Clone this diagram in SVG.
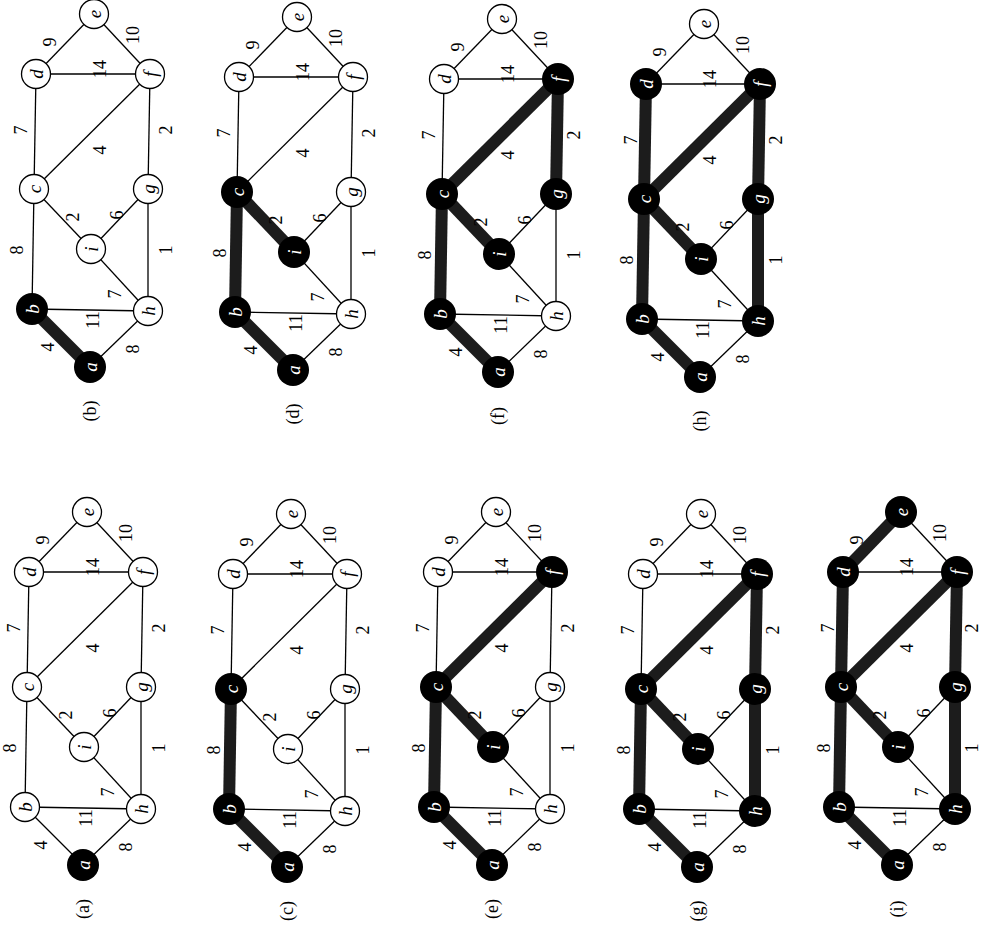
<svg xmlns="http://www.w3.org/2000/svg" width="983" height="937" viewBox="0 0 983 937">
<style>
.e{stroke:#000;stroke-width:1.3}
.t{stroke:#1c1c1c;stroke-width:12}
.w circle{fill:#fff;stroke:#000;stroke-width:1.3}
.k circle{fill:#000}
.n text{font-family:"Liberation Serif",serif;font-style:italic;font-size:19px;text-anchor:middle;dominant-baseline:central}
.w text{fill:#000}
.k text{fill:#fff}
.l{font-family:"Liberation Serif",serif;font-size:18px;text-anchor:middle;dominant-baseline:central;fill:#000}
</style>
<rect width="983" height="937" fill="#fff"/>
<defs>
<g id="thin">
<line class="e" x1="0" y1="0" x2="-58" y2="-58"/>
<line class="e" x1="0" y1="0" x2="58" y2="-56"/>
<line class="e" x1="-58" y1="-58" x2="58" y2="-56"/>
<line class="e" x1="-58" y1="-58" x2="-56" y2="-178"/>
<line class="e" x1="58" y1="-56" x2="1" y2="-118"/>
<line class="e" x1="58" y1="-56" x2="58" y2="-178"/>
<line class="e" x1="-56" y1="-178" x2="1" y2="-118"/>
<line class="e" x1="1" y1="-118" x2="58" y2="-178"/>
<line class="e" x1="-56" y1="-178" x2="-54" y2="-293"/>
<line class="e" x1="-56" y1="-178" x2="60" y2="-293"/>
<line class="e" x1="58" y1="-178" x2="60" y2="-293"/>
<line class="e" x1="-54" y1="-293" x2="60" y2="-293"/>
<line class="e" x1="-54" y1="-293" x2="4" y2="-353"/>
<line class="e" x1="4" y1="-353" x2="60" y2="-293"/>
</g>
<line id="t-ab" class="t" x1="0" y1="0" x2="-58" y2="-58"/>
<line id="t-bc" class="t" x1="-58" y1="-58" x2="-56" y2="-178"/>
<line id="t-ci" class="t" x1="-56" y1="-178" x2="1" y2="-118"/>
<line id="t-cf" class="t" x1="-56" y1="-178" x2="60" y2="-293"/>
<line id="t-gf" class="t" x1="58" y1="-178" x2="60" y2="-293"/>
<line id="t-hg" class="t" x1="58" y1="-56" x2="58" y2="-178"/>
<line id="t-cd" class="t" x1="-56" y1="-178" x2="-54" y2="-293"/>
<line id="t-de" class="t" x1="-54" y1="-293" x2="4" y2="-353"/>
</defs>

<!-- Panel (a) -->
<g id="panel-a" transform="translate(83,865)">
<g id="pa-connectors"><use href="#thin"/></g>
<g id="pa-labels">
<text class="l" transform="translate(-42,-20) rotate(-90)">4</text>
<text class="l" transform="translate(43,-18) rotate(-90)">8</text>
<text class="l" transform="translate(3,-47) rotate(-90)">11</text>
<text class="l" transform="translate(25,-73) rotate(-90)">7</text>
<text class="l" transform="translate(-73,-117) rotate(-90)">8</text>
<text class="l" transform="translate(76,-117) rotate(-90)">1</text>
<text class="l" transform="translate(-17,-150) rotate(-90)">2</text>
<text class="l" transform="translate(27,-152) rotate(-90)">6</text>
<text class="l" transform="translate(10,-217) rotate(-90)">4</text>
<text class="l" transform="translate(-69,-237) rotate(-90)">7</text>
<text class="l" transform="translate(76,-237) rotate(-90)">2</text>
<text class="l" transform="translate(10,-298) rotate(-90)">14</text>
<text class="l" transform="translate(-40,-325) rotate(-90)">9</text>
<text class="l" transform="translate(43,-332) rotate(-90)">10</text>
<text class="l" transform="translate(0,44) rotate(-90)">(a)</text>
</g>
<g id="pa-a" class="n k"><circle cx="0" cy="0" r="16"/><text transform="translate(0,0) rotate(-90)">a</text></g>
<g id="pa-b" class="n w"><circle cx="-58" cy="-58" r="14.5"/><text transform="translate(-58,-58) rotate(-90)">b</text></g>
<g id="pa-h" class="n w"><circle cx="58" cy="-56" r="14.5"/><text transform="translate(58,-56) rotate(-90)">h</text></g>
<g id="pa-i" class="n w"><circle cx="1" cy="-118" r="14.5"/><text transform="translate(1,-118) rotate(-90)">i</text></g>
<g id="pa-c" class="n w"><circle cx="-56" cy="-178" r="14.5"/><text transform="translate(-56,-178) rotate(-90)">c</text></g>
<g id="pa-g" class="n w"><circle cx="58" cy="-178" r="14.5"/><text transform="translate(58,-178) rotate(-90)">g</text></g>
<g id="pa-d" class="n w"><circle cx="-54" cy="-293" r="14.5"/><text transform="translate(-54,-293) rotate(-90)">d</text></g>
<g id="pa-f" class="n w"><circle cx="60" cy="-293" r="14.5"/><text transform="translate(60,-293) rotate(-90)">f</text></g>
<g id="pa-e" class="n w"><circle cx="4" cy="-353" r="14.5"/><text transform="translate(4,-353) rotate(-90)">e</text></g>
</g>

<!-- Panel (b) -->
<g id="panel-b" transform="translate(90,367)">
<g id="pb-connectors"><use href="#thin"/><use href="#t-ab"/></g>
<g id="pb-labels">
<text class="l" transform="translate(-42,-20) rotate(-90)">4</text>
<text class="l" transform="translate(43,-18) rotate(-90)">8</text>
<text class="l" transform="translate(3,-47) rotate(-90)">11</text>
<text class="l" transform="translate(25,-73) rotate(-90)">7</text>
<text class="l" transform="translate(-73,-117) rotate(-90)">8</text>
<text class="l" transform="translate(76,-117) rotate(-90)">1</text>
<text class="l" transform="translate(-17,-150) rotate(-90)">2</text>
<text class="l" transform="translate(27,-152) rotate(-90)">6</text>
<text class="l" transform="translate(10,-217) rotate(-90)">4</text>
<text class="l" transform="translate(-69,-237) rotate(-90)">7</text>
<text class="l" transform="translate(76,-237) rotate(-90)">2</text>
<text class="l" transform="translate(10,-298) rotate(-90)">14</text>
<text class="l" transform="translate(-40,-325) rotate(-90)">9</text>
<text class="l" transform="translate(43,-332) rotate(-90)">10</text>
<text class="l" transform="translate(0,44) rotate(-90)">(b)</text>
</g>
<g id="pb-a" class="n k"><circle cx="0" cy="0" r="16"/><text transform="translate(0,0) rotate(-90)">a</text></g>
<g id="pb-b" class="n k"><circle cx="-58" cy="-58" r="16"/><text transform="translate(-58,-58) rotate(-90)">b</text></g>
<g id="pb-h" class="n w"><circle cx="58" cy="-56" r="14.5"/><text transform="translate(58,-56) rotate(-90)">h</text></g>
<g id="pb-i" class="n w"><circle cx="1" cy="-118" r="14.5"/><text transform="translate(1,-118) rotate(-90)">i</text></g>
<g id="pb-c" class="n w"><circle cx="-56" cy="-178" r="14.5"/><text transform="translate(-56,-178) rotate(-90)">c</text></g>
<g id="pb-g" class="n w"><circle cx="58" cy="-178" r="14.5"/><text transform="translate(58,-178) rotate(-90)">g</text></g>
<g id="pb-d" class="n w"><circle cx="-54" cy="-293" r="14.5"/><text transform="translate(-54,-293) rotate(-90)">d</text></g>
<g id="pb-f" class="n w"><circle cx="60" cy="-293" r="14.5"/><text transform="translate(60,-293) rotate(-90)">f</text></g>
<g id="pb-e" class="n w"><circle cx="4" cy="-353" r="14.5"/><text transform="translate(4,-353) rotate(-90)">e</text></g>
</g>

<!-- Panel (c) -->
<g id="panel-c" transform="translate(287,867)">
<g id="pc-connectors"><use href="#thin"/><use href="#t-ab"/><use href="#t-bc"/></g>
<g id="pc-labels">
<text class="l" transform="translate(-42,-20) rotate(-90)">4</text>
<text class="l" transform="translate(43,-18) rotate(-90)">8</text>
<text class="l" transform="translate(3,-47) rotate(-90)">11</text>
<text class="l" transform="translate(25,-73) rotate(-90)">7</text>
<text class="l" transform="translate(-73,-117) rotate(-90)">8</text>
<text class="l" transform="translate(76,-117) rotate(-90)">1</text>
<text class="l" transform="translate(-17,-150) rotate(-90)">2</text>
<text class="l" transform="translate(27,-152) rotate(-90)">6</text>
<text class="l" transform="translate(10,-217) rotate(-90)">4</text>
<text class="l" transform="translate(-69,-237) rotate(-90)">7</text>
<text class="l" transform="translate(76,-237) rotate(-90)">2</text>
<text class="l" transform="translate(10,-298) rotate(-90)">14</text>
<text class="l" transform="translate(-40,-325) rotate(-90)">9</text>
<text class="l" transform="translate(43,-332) rotate(-90)">10</text>
<text class="l" transform="translate(0,44) rotate(-90)">(c)</text>
</g>
<g id="pc-a" class="n k"><circle cx="0" cy="0" r="16"/><text transform="translate(0,0) rotate(-90)">a</text></g>
<g id="pc-b" class="n k"><circle cx="-58" cy="-58" r="16"/><text transform="translate(-58,-58) rotate(-90)">b</text></g>
<g id="pc-h" class="n w"><circle cx="58" cy="-56" r="14.5"/><text transform="translate(58,-56) rotate(-90)">h</text></g>
<g id="pc-i" class="n w"><circle cx="1" cy="-118" r="14.5"/><text transform="translate(1,-118) rotate(-90)">i</text></g>
<g id="pc-c" class="n k"><circle cx="-56" cy="-178" r="16"/><text transform="translate(-56,-178) rotate(-90)">c</text></g>
<g id="pc-g" class="n w"><circle cx="58" cy="-178" r="14.5"/><text transform="translate(58,-178) rotate(-90)">g</text></g>
<g id="pc-d" class="n w"><circle cx="-54" cy="-293" r="14.5"/><text transform="translate(-54,-293) rotate(-90)">d</text></g>
<g id="pc-f" class="n w"><circle cx="60" cy="-293" r="14.5"/><text transform="translate(60,-293) rotate(-90)">f</text></g>
<g id="pc-e" class="n w"><circle cx="4" cy="-353" r="14.5"/><text transform="translate(4,-353) rotate(-90)">e</text></g>
</g>

<!-- Panel (d) -->
<g id="panel-d" transform="translate(293,370)">
<g id="pd-connectors"><use href="#thin"/><use href="#t-ab"/><use href="#t-bc"/><use href="#t-ci"/></g>
<g id="pd-labels">
<text class="l" transform="translate(-42,-20) rotate(-90)">4</text>
<text class="l" transform="translate(43,-18) rotate(-90)">8</text>
<text class="l" transform="translate(3,-47) rotate(-90)">11</text>
<text class="l" transform="translate(25,-73) rotate(-90)">7</text>
<text class="l" transform="translate(-73,-117) rotate(-90)">8</text>
<text class="l" transform="translate(76,-117) rotate(-90)">1</text>
<text class="l" transform="translate(-17,-150) rotate(-90)">2</text>
<text class="l" transform="translate(27,-152) rotate(-90)">6</text>
<text class="l" transform="translate(10,-217) rotate(-90)">4</text>
<text class="l" transform="translate(-69,-237) rotate(-90)">7</text>
<text class="l" transform="translate(76,-237) rotate(-90)">2</text>
<text class="l" transform="translate(10,-298) rotate(-90)">14</text>
<text class="l" transform="translate(-40,-325) rotate(-90)">9</text>
<text class="l" transform="translate(43,-332) rotate(-90)">10</text>
<text class="l" transform="translate(0,44) rotate(-90)">(d)</text>
</g>
<g id="pd-a" class="n k"><circle cx="0" cy="0" r="16"/><text transform="translate(0,0) rotate(-90)">a</text></g>
<g id="pd-b" class="n k"><circle cx="-58" cy="-58" r="16"/><text transform="translate(-58,-58) rotate(-90)">b</text></g>
<g id="pd-h" class="n w"><circle cx="58" cy="-56" r="14.5"/><text transform="translate(58,-56) rotate(-90)">h</text></g>
<g id="pd-i" class="n k"><circle cx="1" cy="-118" r="16"/><text transform="translate(1,-118) rotate(-90)">i</text></g>
<g id="pd-c" class="n k"><circle cx="-56" cy="-178" r="16"/><text transform="translate(-56,-178) rotate(-90)">c</text></g>
<g id="pd-g" class="n w"><circle cx="58" cy="-178" r="14.5"/><text transform="translate(58,-178) rotate(-90)">g</text></g>
<g id="pd-d" class="n w"><circle cx="-54" cy="-293" r="14.5"/><text transform="translate(-54,-293) rotate(-90)">d</text></g>
<g id="pd-f" class="n w"><circle cx="60" cy="-293" r="14.5"/><text transform="translate(60,-293) rotate(-90)">f</text></g>
<g id="pd-e" class="n w"><circle cx="4" cy="-353" r="14.5"/><text transform="translate(4,-353) rotate(-90)">e</text></g>
</g>

<!-- Panel (e) -->
<g id="panel-e" transform="translate(492,865)">
<g id="pe-connectors"><use href="#thin"/><use href="#t-ab"/><use href="#t-bc"/><use href="#t-ci"/><use href="#t-cf"/></g>
<g id="pe-labels">
<text class="l" transform="translate(-42,-20) rotate(-90)">4</text>
<text class="l" transform="translate(43,-18) rotate(-90)">8</text>
<text class="l" transform="translate(3,-47) rotate(-90)">11</text>
<text class="l" transform="translate(25,-73) rotate(-90)">7</text>
<text class="l" transform="translate(-73,-117) rotate(-90)">8</text>
<text class="l" transform="translate(76,-117) rotate(-90)">1</text>
<text class="l" transform="translate(-17,-150) rotate(-90)">2</text>
<text class="l" transform="translate(27,-152) rotate(-90)">6</text>
<text class="l" transform="translate(10,-217) rotate(-90)">4</text>
<text class="l" transform="translate(-69,-237) rotate(-90)">7</text>
<text class="l" transform="translate(76,-237) rotate(-90)">2</text>
<text class="l" transform="translate(10,-298) rotate(-90)">14</text>
<text class="l" transform="translate(-40,-325) rotate(-90)">9</text>
<text class="l" transform="translate(43,-332) rotate(-90)">10</text>
<text class="l" transform="translate(0,44) rotate(-90)">(e)</text>
</g>
<g id="pe-a" class="n k"><circle cx="0" cy="0" r="16"/><text transform="translate(0,0) rotate(-90)">a</text></g>
<g id="pe-b" class="n k"><circle cx="-58" cy="-58" r="16"/><text transform="translate(-58,-58) rotate(-90)">b</text></g>
<g id="pe-h" class="n w"><circle cx="58" cy="-56" r="14.5"/><text transform="translate(58,-56) rotate(-90)">h</text></g>
<g id="pe-i" class="n k"><circle cx="1" cy="-118" r="16"/><text transform="translate(1,-118) rotate(-90)">i</text></g>
<g id="pe-c" class="n k"><circle cx="-56" cy="-178" r="16"/><text transform="translate(-56,-178) rotate(-90)">c</text></g>
<g id="pe-g" class="n w"><circle cx="58" cy="-178" r="14.5"/><text transform="translate(58,-178) rotate(-90)">g</text></g>
<g id="pe-d" class="n w"><circle cx="-54" cy="-293" r="14.5"/><text transform="translate(-54,-293) rotate(-90)">d</text></g>
<g id="pe-f" class="n k"><circle cx="60" cy="-293" r="16"/><text transform="translate(60,-293) rotate(-90)">f</text></g>
<g id="pe-e" class="n w"><circle cx="4" cy="-353" r="14.5"/><text transform="translate(4,-353) rotate(-90)">e</text></g>
</g>

<!-- Panel (f) -->
<g id="panel-f" transform="translate(498,372)">
<g id="pf-connectors"><use href="#thin"/><use href="#t-ab"/><use href="#t-bc"/><use href="#t-ci"/><use href="#t-cf"/><use href="#t-gf"/></g>
<g id="pf-labels">
<text class="l" transform="translate(-42,-20) rotate(-90)">4</text>
<text class="l" transform="translate(43,-18) rotate(-90)">8</text>
<text class="l" transform="translate(3,-47) rotate(-90)">11</text>
<text class="l" transform="translate(25,-73) rotate(-90)">7</text>
<text class="l" transform="translate(-73,-117) rotate(-90)">8</text>
<text class="l" transform="translate(76,-117) rotate(-90)">1</text>
<text class="l" transform="translate(-17,-150) rotate(-90)">2</text>
<text class="l" transform="translate(27,-152) rotate(-90)">6</text>
<text class="l" transform="translate(10,-217) rotate(-90)">4</text>
<text class="l" transform="translate(-69,-237) rotate(-90)">7</text>
<text class="l" transform="translate(76,-237) rotate(-90)">2</text>
<text class="l" transform="translate(10,-298) rotate(-90)">14</text>
<text class="l" transform="translate(-40,-325) rotate(-90)">9</text>
<text class="l" transform="translate(43,-332) rotate(-90)">10</text>
<text class="l" transform="translate(0,44) rotate(-90)">(f)</text>
</g>
<g id="pf-a" class="n k"><circle cx="0" cy="0" r="16"/><text transform="translate(0,0) rotate(-90)">a</text></g>
<g id="pf-b" class="n k"><circle cx="-58" cy="-58" r="16"/><text transform="translate(-58,-58) rotate(-90)">b</text></g>
<g id="pf-h" class="n w"><circle cx="58" cy="-56" r="14.5"/><text transform="translate(58,-56) rotate(-90)">h</text></g>
<g id="pf-i" class="n k"><circle cx="1" cy="-118" r="16"/><text transform="translate(1,-118) rotate(-90)">i</text></g>
<g id="pf-c" class="n k"><circle cx="-56" cy="-178" r="16"/><text transform="translate(-56,-178) rotate(-90)">c</text></g>
<g id="pf-g" class="n k"><circle cx="58" cy="-178" r="16"/><text transform="translate(58,-178) rotate(-90)">g</text></g>
<g id="pf-d" class="n w"><circle cx="-54" cy="-293" r="14.5"/><text transform="translate(-54,-293) rotate(-90)">d</text></g>
<g id="pf-f" class="n k"><circle cx="60" cy="-293" r="16"/><text transform="translate(60,-293) rotate(-90)">f</text></g>
<g id="pf-e" class="n w"><circle cx="4" cy="-353" r="14.5"/><text transform="translate(4,-353) rotate(-90)">e</text></g>
</g>

<!-- Panel (g) -->
<g id="panel-g" transform="translate(697,867)">
<g id="pg-connectors"><use href="#thin"/><use href="#t-ab"/><use href="#t-bc"/><use href="#t-ci"/><use href="#t-cf"/><use href="#t-gf"/><use href="#t-hg"/></g>
<g id="pg-labels">
<text class="l" transform="translate(-42,-20) rotate(-90)">4</text>
<text class="l" transform="translate(43,-18) rotate(-90)">8</text>
<text class="l" transform="translate(3,-47) rotate(-90)">11</text>
<text class="l" transform="translate(25,-73) rotate(-90)">7</text>
<text class="l" transform="translate(-73,-117) rotate(-90)">8</text>
<text class="l" transform="translate(76,-117) rotate(-90)">1</text>
<text class="l" transform="translate(-17,-150) rotate(-90)">2</text>
<text class="l" transform="translate(27,-152) rotate(-90)">6</text>
<text class="l" transform="translate(10,-217) rotate(-90)">4</text>
<text class="l" transform="translate(-69,-237) rotate(-90)">7</text>
<text class="l" transform="translate(76,-237) rotate(-90)">2</text>
<text class="l" transform="translate(10,-298) rotate(-90)">14</text>
<text class="l" transform="translate(-40,-325) rotate(-90)">9</text>
<text class="l" transform="translate(43,-332) rotate(-90)">10</text>
<text class="l" transform="translate(0,44) rotate(-90)">(g)</text>
</g>
<g id="pg-a" class="n k"><circle cx="0" cy="0" r="16"/><text transform="translate(0,0) rotate(-90)">a</text></g>
<g id="pg-b" class="n k"><circle cx="-58" cy="-58" r="16"/><text transform="translate(-58,-58) rotate(-90)">b</text></g>
<g id="pg-h" class="n k"><circle cx="58" cy="-56" r="16"/><text transform="translate(58,-56) rotate(-90)">h</text></g>
<g id="pg-i" class="n k"><circle cx="1" cy="-118" r="16"/><text transform="translate(1,-118) rotate(-90)">i</text></g>
<g id="pg-c" class="n k"><circle cx="-56" cy="-178" r="16"/><text transform="translate(-56,-178) rotate(-90)">c</text></g>
<g id="pg-g" class="n k"><circle cx="58" cy="-178" r="16"/><text transform="translate(58,-178) rotate(-90)">g</text></g>
<g id="pg-d" class="n w"><circle cx="-54" cy="-293" r="14.5"/><text transform="translate(-54,-293) rotate(-90)">d</text></g>
<g id="pg-f" class="n k"><circle cx="60" cy="-293" r="16"/><text transform="translate(60,-293) rotate(-90)">f</text></g>
<g id="pg-e" class="n w"><circle cx="4" cy="-353" r="14.5"/><text transform="translate(4,-353) rotate(-90)">e</text></g>
</g>

<!-- Panel (h) -->
<g id="panel-h" transform="translate(700,377)">
<g id="ph-connectors"><use href="#thin"/><use href="#t-ab"/><use href="#t-bc"/><use href="#t-ci"/><use href="#t-cf"/><use href="#t-gf"/><use href="#t-hg"/><use href="#t-cd"/></g>
<g id="ph-labels">
<text class="l" transform="translate(-42,-20) rotate(-90)">4</text>
<text class="l" transform="translate(43,-18) rotate(-90)">8</text>
<text class="l" transform="translate(3,-47) rotate(-90)">11</text>
<text class="l" transform="translate(25,-73) rotate(-90)">7</text>
<text class="l" transform="translate(-73,-117) rotate(-90)">8</text>
<text class="l" transform="translate(76,-117) rotate(-90)">1</text>
<text class="l" transform="translate(-17,-150) rotate(-90)">2</text>
<text class="l" transform="translate(27,-152) rotate(-90)">6</text>
<text class="l" transform="translate(10,-217) rotate(-90)">4</text>
<text class="l" transform="translate(-69,-237) rotate(-90)">7</text>
<text class="l" transform="translate(76,-237) rotate(-90)">2</text>
<text class="l" transform="translate(10,-298) rotate(-90)">14</text>
<text class="l" transform="translate(-40,-325) rotate(-90)">9</text>
<text class="l" transform="translate(43,-332) rotate(-90)">10</text>
<text class="l" transform="translate(0,44) rotate(-90)">(h)</text>
</g>
<g id="ph-a" class="n k"><circle cx="0" cy="0" r="16"/><text transform="translate(0,0) rotate(-90)">a</text></g>
<g id="ph-b" class="n k"><circle cx="-58" cy="-58" r="16"/><text transform="translate(-58,-58) rotate(-90)">b</text></g>
<g id="ph-h" class="n k"><circle cx="58" cy="-56" r="16"/><text transform="translate(58,-56) rotate(-90)">h</text></g>
<g id="ph-i" class="n k"><circle cx="1" cy="-118" r="16"/><text transform="translate(1,-118) rotate(-90)">i</text></g>
<g id="ph-c" class="n k"><circle cx="-56" cy="-178" r="16"/><text transform="translate(-56,-178) rotate(-90)">c</text></g>
<g id="ph-g" class="n k"><circle cx="58" cy="-178" r="16"/><text transform="translate(58,-178) rotate(-90)">g</text></g>
<g id="ph-d" class="n k"><circle cx="-54" cy="-293" r="16"/><text transform="translate(-54,-293) rotate(-90)">d</text></g>
<g id="ph-f" class="n k"><circle cx="60" cy="-293" r="16"/><text transform="translate(60,-293) rotate(-90)">f</text></g>
<g id="ph-e" class="n w"><circle cx="4" cy="-353" r="14.5"/><text transform="translate(4,-353) rotate(-90)">e</text></g>
</g>

<!-- Panel (i) -->
<g id="panel-i" transform="translate(897,865)">
<g id="pi-connectors"><use href="#thin"/><use href="#t-ab"/><use href="#t-bc"/><use href="#t-ci"/><use href="#t-cf"/><use href="#t-gf"/><use href="#t-hg"/><use href="#t-cd"/><use href="#t-de"/></g>
<g id="pi-labels">
<text class="l" transform="translate(-42,-20) rotate(-90)">4</text>
<text class="l" transform="translate(43,-18) rotate(-90)">8</text>
<text class="l" transform="translate(3,-47) rotate(-90)">11</text>
<text class="l" transform="translate(25,-73) rotate(-90)">7</text>
<text class="l" transform="translate(-73,-117) rotate(-90)">8</text>
<text class="l" transform="translate(75,-117) rotate(-90)">1</text>
<text class="l" transform="translate(-17,-150) rotate(-90)">2</text>
<text class="l" transform="translate(27,-152) rotate(-90)">6</text>
<text class="l" transform="translate(10,-217) rotate(-90)">4</text>
<text class="l" transform="translate(-69,-237) rotate(-90)">7</text>
<text class="l" transform="translate(75,-237) rotate(-90)">2</text>
<text class="l" transform="translate(10,-298) rotate(-90)">14</text>
<text class="l" transform="translate(-40,-325) rotate(-90)">9</text>
<text class="l" transform="translate(43,-332) rotate(-90)">10</text>
<text class="l" transform="translate(0,44) rotate(-90)">(i)</text>
</g>
<g id="pi-a" class="n k"><circle cx="0" cy="0" r="16"/><text transform="translate(0,0) rotate(-90)">a</text></g>
<g id="pi-b" class="n k"><circle cx="-58" cy="-58" r="16"/><text transform="translate(-58,-58) rotate(-90)">b</text></g>
<g id="pi-h" class="n k"><circle cx="58" cy="-56" r="16"/><text transform="translate(58,-56) rotate(-90)">h</text></g>
<g id="pi-i" class="n k"><circle cx="1" cy="-118" r="16"/><text transform="translate(1,-118) rotate(-90)">i</text></g>
<g id="pi-c" class="n k"><circle cx="-56" cy="-178" r="16"/><text transform="translate(-56,-178) rotate(-90)">c</text></g>
<g id="pi-g" class="n k"><circle cx="58" cy="-178" r="16"/><text transform="translate(58,-178) rotate(-90)">g</text></g>
<g id="pi-d" class="n k"><circle cx="-54" cy="-293" r="16"/><text transform="translate(-54,-293) rotate(-90)">d</text></g>
<g id="pi-f" class="n k"><circle cx="60" cy="-293" r="16"/><text transform="translate(60,-293) rotate(-90)">f</text></g>
<g id="pi-e" class="n k"><circle cx="4" cy="-353" r="16"/><text transform="translate(4,-353) rotate(-90)">e</text></g>
</g>
</svg>
